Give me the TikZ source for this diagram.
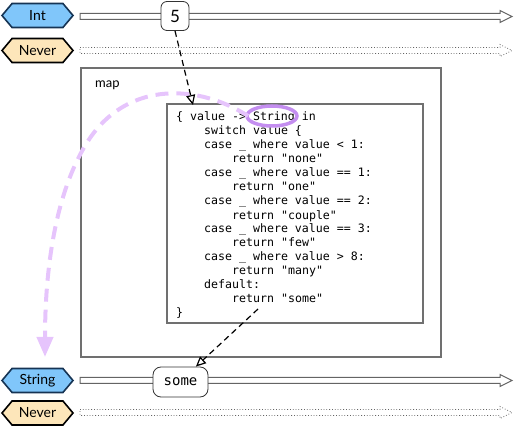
\documentclass[tikz,border=0pt]{standalone}
\usepackage{fontspec}
\setmainfont{Lato}
\setmonofont{DejaVu Sans Mono}
\usetikzlibrary{arrows.meta,shapes.symbols}
\definecolor{intblue}{RGB}{128,198,250}
\definecolor{intborder}{RGB}{22,52,84}
\definecolor{neverfill}{RGB}{253,230,186}
\definecolor{trackgray}{RGB}{100,100,100}
\definecolor{boxgray}{RGB}{112,112,112}
\definecolor{curvepurple}{RGB}{230,196,252}
\definecolor{ringpurple}{RGB}{196,142,240}
\newcommand\mytrack[2]{\draw[#2] (80,#1-3) -- (500,#1-3) -- (500,#1-6) -- (512,#1) -- (500,#1+6) -- (500,#1+3) -- (80,#1+3) -- cycle;}
\tikzset{
  typetag/.style={signal, signal to=west and east, signal pointer angle=100,
    minimum width=71pt, minimum height=24pt, inner sep=0pt, line width=1.6pt,
    font=\fontsize{14}{16}\selectfont},
  solidtrack/.style={draw=trackgray, fill=white, line width=1pt},
  dottedtrack/.style={draw=trackgray, dotted, line width=0.8pt},
  valuebox/.style={draw=black!80, fill=white, rounded corners=6pt, line width=0.8pt, inner sep=0pt},
  codeline/.style={anchor=base west, inner sep=0pt, font=\ttfamily\fontsize{11.6}{14}\selectfont},
  flowarrow/.style={dash pattern=on 6pt off 4pt, line width=1.2pt,
    -{Triangle[open,length=10pt,width=9pt]}},
  boxframe/.style={draw=boxgray, line width=1.5pt}
}
\begin{document}
\begin{tikzpicture}[x=1pt,y=-1pt]
\useasboundingbox (0,0) rectangle (514,427);
% tracks
\mytrack{16.5}{solidtrack}
\mytrack{50.5}{dottedtrack}
\mytrack{380.5}{solidtrack}
\mytrack{412.5}{dottedtrack}
% tags
\node[typetag, draw=intborder, fill=intblue] (inttag) at (37.5,15.5) {Int};
\node[typetag, draw=black, fill=neverfill] (nevertag1) at (37.5,50.5) {Never};
\node[typetag, draw=intborder, fill=intblue] (stringtag) at (37.5,380.5) {String};
\node[typetag, draw=black, fill=neverfill] (nevertag2) at (37.5,413) {Never};
% boxes
\draw[boxframe] (81,68) rectangle (441,357);
\node[anchor=base west, inner sep=0pt, font=\fontsize{13}{15}\selectfont] (maplabel) at (95,88) {map};
\draw[boxframe, fill=white] (167,104) rectangle (423,323);
% code
\node[codeline] (c0) at (176,121) {\{ value -> String in};
\node[codeline] (c1) at (204,135) {switch value \{};
\node[codeline] (c2) at (204,149) {case \_ where value < 1:};
\node[codeline] (c3) at (232,163) {return "none"};
\node[codeline] (c4) at (204,177) {case \_ where value == 1:};
\node[codeline] (c5) at (232,191) {return "one"};
\node[codeline] (c6) at (204,205) {case \_ where value == 2:};
\node[codeline] (c7) at (232,220) {return "couple"};
\node[codeline] (c8) at (204,233) {case \_ where value == 3:};
\node[codeline] (c9) at (232,247) {return "few"};
\node[codeline] (c10) at (204,261) {case \_ where value > 8:};
\node[codeline] (c11) at (232,275) {return "many"};
\node[codeline] (c12) at (204,289) {default:};
\node[codeline] (c13) at (232,303) {return "some"};
\node[codeline] (c14) at (176,317) {\}};
% purple ring and curve
\draw[ringpurple, line width=3.5pt] (272,116) ellipse [x radius=25, y radius=10];
\coordinate (curvestart) at (248,116);
\coordinate (curveend) at (45,357);
\draw[curvepurple, line width=4pt, dash pattern=on 13pt off 8pt,
  -{Triangle[length=20pt,width=16pt]}]
  (curvestart) .. controls (200,85) and (130,80) .. (90,138)
  .. controls (55,190) and (45,270) .. (curveend);
% value nodes
\node[valuebox, minimum width=28pt, minimum height=29pt, font=\fontsize{17}{19}\selectfont] (five) at (175,16) {5};
\node[valuebox, rounded corners=8pt, minimum width=55pt, minimum height=30pt, font=\ttfamily\fontsize{14}{16}\selectfont] (some) at (180.5,382) {some};
% flow arrows
\coordinate (intocode) at (193,105);
\coordinate (outofcode) at (258,309);
\draw[flowarrow] (five.south) -- (intocode);
\draw[flowarrow] (outofcode) -- (some.45);
\end{tikzpicture}
\end{document}
